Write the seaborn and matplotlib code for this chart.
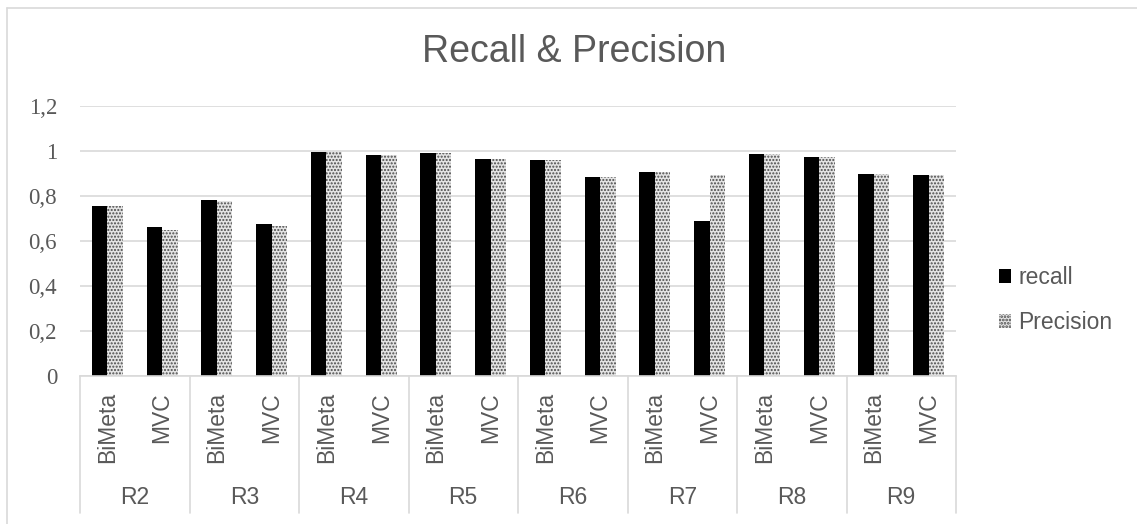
import matplotlib
matplotlib.use("Agg")
import matplotlib.pyplot as plt
import matplotlib.transforms as mtransforms
from matplotlib.lines import Line2D
from matplotlib.patches import Patch
import seaborn as sns
import pandas as pd

# ---- data ----
regions = ["R2", "R3", "R4", "R5", "R6", "R7", "R8", "R9"]
methods = ["BiMeta", "MVC"]
recall = [0.755, 0.661, 0.781, 0.674, 0.992, 0.981, 0.990, 0.962,
          0.959, 0.884, 0.905, 0.690, 0.983, 0.971, 0.896, 0.893]
precision = [0.755, 0.648, 0.779, 0.667, 0.992, 0.981, 0.990, 0.961,
             0.958, 0.884, 0.905, 0.894, 0.983, 0.971, 0.896, 0.893]
series_names = ["recall", "Precision"]
yticks = [0, 0.2, 0.4, 0.6, 0.8, 1.0, 1.2]
ytick_labels = ["0", "0,2", "0,4", "0,6", "0,8", "1", "1,2"]
title = "Recall & Precision"

cats = [f"{r}|{m}" for r in regions for m in methods]
df = pd.DataFrame({
    "cat": cats * 2,
    "value": recall + precision,
    "metric": [series_names[0]] * len(cats) + [series_names[1]] * len(cats),
})

sns.set_style("white")
TXT = "#595959"
GRID = "#d9d9d9"
HFACE = "#e4e4e4"
HEDGE = "#4a4a4a"
W, H = 1137, 524
fig = plt.figure(figsize=(W / 100, H / 100), dpi=100)
y0_px, y12_px = 376.4, 105.5
x0_px, x1_px = 80, 956
ax = fig.add_axes([x0_px / W, 1 - y0_px / H, (x1_px - x0_px) / W, (y0_px - y12_px) / H])

sns.barplot(data=df, x="cat", y="value", hue="metric", order=cats,
            hue_order=series_names, palette=["black", HFACE],
            width=0.57, saturation=1, ax=ax, legend=False)

for p in ax.containers[0]:
    p.set_edgecolor("black")
    p.set_linewidth(0)
plt.rcParams["hatch.linewidth"] = 1.3
for p in ax.containers[1]:
    p.set_facecolor(HFACE)
    p.set_edgecolor(HEDGE)
    p.set_hatch(".....")
    p.set_linewidth(0)

ax.set_ylim(0, 1.2)
ax.set_xlim(-0.5, len(cats) - 0.5)
ax.set_yticks(yticks)
ax.set_yticklabels(ytick_labels, family="Liberation Serif", fontsize=16.5, color=TXT)
ax.yaxis.grid(True, color=GRID, linewidth=1.2)
ax.set_axisbelow(True)
for s in ["top", "right", "left"]:
    ax.spines[s].set_visible(False)
ax.spines["bottom"].set_color(GRID)
ax.spines["bottom"].set_linewidth(1.2)
ax.tick_params(axis="y", length=0, pad=16.5)
ax.tick_params(axis="x", length=0, pad=11.5)
ax.set_xticks(range(len(cats)))
ax.set_xticklabels([m for r in regions for m in methods], rotation=90,
                   family="Liberation Sans", fontsize=16.5, color=TXT, va="top")
ax.set_xlabel("")
ax.set_ylabel("")

# group labels and separators
trans = mtransforms.blended_transform_factory(ax.transData, ax.transAxes)
ax_h = y0_px - y12_px
bottom_ax = -(513 - y0_px) / ax_h
label_ax = -(497 - y0_px) / ax_h
for i in range(len(regions) + 1):
    xb = -0.5 + 2 * i
    ax.add_line(Line2D([xb, xb], [0, bottom_ax], transform=trans, color=GRID,
                       linewidth=1.2, clip_on=False))
for i, r in enumerate(regions):
    ax.text(2 * i + 0.5, label_ax, r, transform=trans, ha="center", va="center",
            family="Liberation Sans", fontsize=16.5, color=TXT)

# title
fig.text(574 / W, 1 - 52 / H, title, ha="center", va="center",
         family="Liberation Sans", fontsize=27, color=TXT)

# legend
handles = [Patch(facecolor="black", edgecolor="black", linewidth=0),
           Patch(facecolor=HFACE, edgecolor=HEDGE, hatch=".....", linewidth=0)]
fig.legend(handles, series_names, loc="center left",
           bbox_to_anchor=(978 / W, 1 - 300 / H), frameon=False,
           prop={"family": "Liberation Sans", "size": 16.5},
           labelcolor=TXT, handlelength=0.55, handleheight=0.55,
           handletextpad=0.3, labelspacing=0.95)

# outer chart border (top and left visible)
fig.add_artist(Line2D([7 / W, 1], [1 - 8 / H, 1 - 8 / H], transform=fig.transFigure,
                      color=GRID, linewidth=1.2))
fig.add_artist(Line2D([7 / W, 7 / W], [0, 1 - 8 / H], transform=fig.transFigure,
                      color=GRID, linewidth=1.2))

fig.savefig("out.png", dpi=100, facecolor="white")
